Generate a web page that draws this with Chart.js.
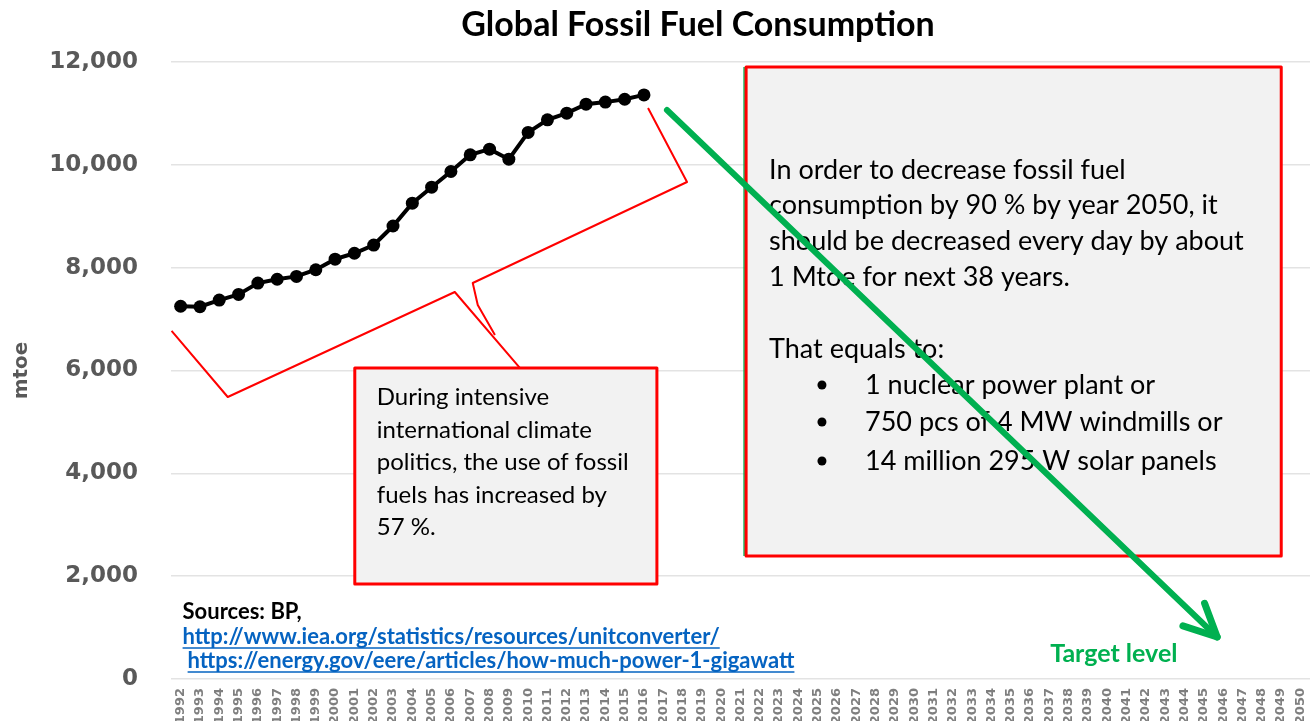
<!DOCTYPE html>
<html>
<head>
<meta charset="utf-8">
<title>Global Fossil Fuel Consumption</title>
<script src="https://cdn.jsdelivr.net/npm/chart.js@4.4.1/dist/chart.umd.min.js"></script>
<style>
  html, body { margin: 0; padding: 0; background: #fff; }
  #wrap { width: 1311px; height: 727px; position: relative; }
</style>
</head>
<body>
<div id="wrap"><canvas id="fuelChart" width="1311" height="727"></canvas></div>
<script>
// categories: years on the x axis
const years = ["1992","1993","1994","1995","1996","1997","1998","1999","2000","2001",
  "2002","2003","2004","2005","2006","2007","2008","2009","2010","2011",
  "2012","2013","2014","2015","2016","2017","2018","2019","2020","2021",
  "2022","2023","2024","2025","2026","2027","2028","2029","2030","2031",
  "2032","2033","2034","2035","2036","2037","2038","2039","2040","2041",
  "2042","2043","2044","2045","2046","2047","2048","2049","2050"];

// global fossil fuel consumption, mtoe, 1992-2016
const consumption = [7250, 7240, 7370, 7480, 7700, 7775, 7830, 7960, 8165, 8280,
  8440, 8810, 9255, 9565, 9870, 10195, 10305, 10110, 10630, 10875,
  11005, 11180, 11220, 11275, 11360];

// y axis tick values
const yTicks = [0, 2000, 4000, 6000, 8000, 10000, 12000];

// callout texts
const leftNote = ["During intensive", "international climate", "politics, the use of fossil",
  "fuels has increased by", "57 %."];
const rightNote = ["In order to decrease fossil fuel", "consumption by 90 % by year 2050, it",
  "should be decreased every day by about", "1 Mtoe for next 38 years."];
const rightIntro = "That equals to:";
const rightBullets = ["1 nuclear power plant or", "750 pcs of 4 MW windmills or",
  "14 million 295 W solar panels"];
const sources = ["Sources: BP,", "http://www.iea.org/statistics/resources/unitconverter/",
  "https://energy.gov/eere/articles/how-much-power-1-gigawatt"];

const RED = "#ff0000";
const GREEN = "#00b050";
const BOX_FILL = "#f2f2f2";

// Draws the title, brace, callouts and arrow on top of the chart
const overlay = {
    id: "overlay",
    afterDraw(chart) {
        const ctx = chart.ctx;
        const xs = chart.scales.x;
        const ys = chart.scales.y;
        const px = i => xs.getPixelForValue(i);
        const py = v => ys.getPixelForValue(v);

        ctx.save();

        // title
        ctx.fillStyle = "#000";
        ctx.font = "bold 34px Lato";
        ctx.textAlign = "center";
        ctx.textBaseline = "middle";
        ctx.fillText("Global Fossil Fuel Consumption", 698, 25);

        // red brace
        ctx.strokeStyle = RED;
        ctx.lineWidth = 2;
        ctx.lineJoin = "round";
        const braceA = [[-0.47, 6770], [2.44, 5485], [14.2, 7527], [17.57, 6050]];
        const braceB = [[24.21, 11105], [26.23, 9666], [15.13, 7702], [15.39, 7274], [16.28, 6690]];
        [braceA, braceB].forEach(path => {
            ctx.beginPath();
            path.forEach((p, k) => {
                if (k === 0) ctx.moveTo(px(p[0]), py(p[1]));
                else ctx.lineTo(px(p[0]), py(p[1]));
            });
            ctx.stroke();
        });

        // left callout box
        drawBox(ctx, px(9.02), py(6049), px(24.67), py(1848));
        ctx.fillStyle = "#000";
        ctx.font = "24px Lato";
        ctx.textAlign = "left";
        ctx.textBaseline = "middle";
        const leftRows = [5485, 4843, 4220, 3579, 2956];
        leftNote.forEach((t, k) => ctx.fillText(t, px(10.16), py(leftRows[k])));

        // right callout box, with the thin green edge on its left
        ctx.strokeStyle = GREEN;
        ctx.lineWidth = 1.5;
        ctx.beginPath();
        ctx.moveTo(px(29.29) - 2, py(11903));
        ctx.lineTo(px(29.29) - 2, py(2392));
        ctx.stroke();
        drawBox(ctx, px(29.29), py(11903), px(57.01), py(2392));
        ctx.fillStyle = "#000";
        ctx.font = "27px Lato";
        const rightRows = [9900, 9219, 8519, 7819];
        rightNote.forEach((t, k) => ctx.fillText(t, px(30.48), py(rightRows[k])));
        ctx.fillText(rightIntro, px(30.48), py(6418));
        const bulletRows = [5718, 4998, 4240];
        rightBullets.forEach((t, k) => {
            ctx.beginPath();
            ctx.arc(px(33.22), py(bulletRows[k]), 4.5, 0, Math.PI * 2);
            ctx.fill();
            ctx.fillText(t, px(35.45), py(bulletRows[k]));
        });

        // green arrow towards the target level
        const x0 = px(25.19), y0 = py(11067), x1 = px(53.69), y1 = py(817);
        ctx.strokeStyle = GREEN;
        ctx.lineCap = "round";
        ctx.lineWidth = 6;
        ctx.beginPath();
        ctx.moveTo(x0, y0);
        ctx.lineTo(x1, y1);
        ctx.stroke();
        const ang = Math.atan2(y1 - y0, x1 - x0) + Math.PI;
        ctx.lineWidth = 7;
        [-0.45, 0.45].forEach(d => {
            ctx.beginPath();
            ctx.moveTo(x1, y1);
            ctx.lineTo(x1 + 36 * Math.cos(ang + d), y1 + 36 * Math.sin(ang + d));
            ctx.stroke();
        });

        ctx.fillStyle = GREEN;
        ctx.font = "bold 25px Lato";
        ctx.fillText("Target level", px(45.04), py(486));

        // sources
        ctx.fillStyle = "#000";
        ctx.font = "bold 22px Lato";
        ctx.fillText(sources[0], px(0.1), py(1303));
        ctx.fillStyle = "#0563c1";
        ctx.strokeStyle = "#0563c1";
        ctx.lineWidth = 1.5;
        ctx.lineCap = "butt";
        ctx.font = "bold 22px Lato";
        [[sources[1], 0.1, 817], [sources[2], 0.36, 350]].forEach(s => {
            const lx = px(s[1]), ly = py(s[2]);
            ctx.fillText(s[0], lx, ly);
            const w = ctx.measureText(s[0]).width;
            ctx.beginPath();
            ctx.moveTo(lx, ly + 11);
            ctx.lineTo(lx + w, ly + 11);
            ctx.stroke();
        });

        ctx.restore();
    }
};

function drawBox(ctx, l, t, r, b) {
    ctx.fillStyle = BOX_FILL;
    ctx.fillRect(l, t, r - l, b - t);
    ctx.strokeStyle = RED;
    ctx.lineWidth = 3;
    ctx.strokeRect(l, t, r - l, b - t);
}

const ctx = document.getElementById("fuelChart").getContext("2d");

new Chart(ctx, {
    type: "line",
    data: {
        labels: years,
        datasets: [
            {
                label: "Fossil fuel consumption",
                data: consumption,
                borderColor: "#000",
                backgroundColor: "#000",
                borderWidth: 4,
                pointRadius: 6.5,
                pointBorderWidth: 0,
                tension: 0,
            },
        ],
    },
    options: {
        responsive: false,
        animation: false,
        layout: {
            autoPadding: false,
            padding: { top: 62, right: 1, bottom: 6, left: 0 },
        },
        plugins: {
            legend: { display: false },
            tooltip: { enabled: false },
        },
        scales: {
            x: {
                offset: true,
                afterFit: (scale) => {
                    scale.height = 42;
                    scale.paddingLeft = 0;
                    scale.paddingRight = 0;
                },
                grid: { display: false, drawTicks: false },
                border: { display: false },
                ticks: {
                    autoSkip: false,
                    minRotation: 90,
                    maxRotation: 90,
                    padding: 9,
                    color: "#7f7f7f",
                    font: { family: "DejaVu Sans", size: 13, weight: "bold" },
                },
            },
            y: {
                min: 0,
                max: 12000,
                afterBuildTicks: (scale) => {
                    scale.ticks = yTicks.map(v => ({ value: v }));
                },
                afterFit: (scale) => {
                    scale.width = 171;
                    scale.paddingTop = 0;
                    scale.paddingBottom = 0;
                },
                grid: { color: "#e3e3e3", lineWidth: 1.5, drawTicks: false },
                border: { display: false },
                ticks: {
                    padding: 33,
                    color: "#595959",
                    font: { family: "DejaVu Sans", size: 23, weight: "bold" },
                },
                title: {
                    display: true,
                    text: "mtoe",
                    color: "#595959",
                    padding: { top: 10, bottom: 0 },
                    font: { family: "DejaVu Sans", size: 20, weight: "bold" },
                },
            },
        },
    },
    plugins: [overlay],
});
</script>
</body>
</html>
